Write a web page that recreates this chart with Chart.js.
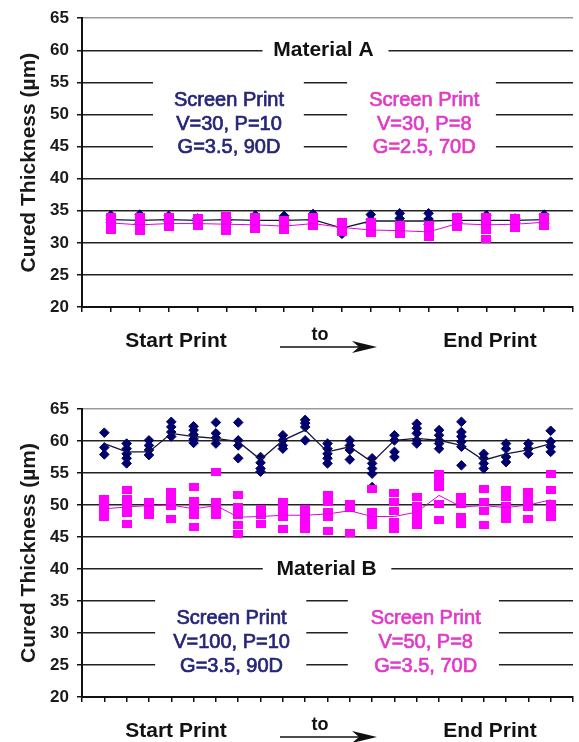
<!DOCTYPE html>
<html>
<head>
<meta charset="utf-8">
<script src="https://cdn.jsdelivr.net/npm/chart.js@4.4.0/dist/chart.umd.min.js"></script>
<style>
  html, body { margin: 0; padding: 0; background: #fff; overflow: hidden; }
  canvas { position: absolute; left: 0; }
  #chartA { top: 0; }
  #chartB { top: 380px; }
</style>
</head>
<body>
<canvas id="chartA" width="579" height="370"></canvas>
<canvas id="chartB" width="579" height="362"></canvas>
<script>
// y axis labels (same for both panels)
const yTicks = [20, 25, 30, 35, 40, 45, 50, 55, 60, 65];

// Material A - print number along the run
const posA = [1, 2, 3, 4, 5, 6, 7, 8, 9, 10, 11, 12, 13, 14, 15, 16];
// V=30, P=10 (navy diamonds), several readings per print
const navyA = [
  [34.3, 33.6, 33.2], [34.4, 33.5, 33.0], [34.2, 33.6, 33.3], [33.8, 33.4, 33.1],
  [34.0, 33.5, 33.2], [34.3, 33.5, 33.0], [34.2, 33.6, 33.1], [34.5, 33.5, 33.2],
  [32.9, 32.4, 31.4], [34.4, 33.6, 33.0], [34.6, 33.8, 33.0], [34.6, 33.7, 32.9],
  [33.9, 33.5, 33.2], [34.3, 33.5, 32.9], [33.8, 33.5, 33.2], [34.4, 33.4, 33.0]
];
const navyAMean = [33.6, 33.5, 33.6, 33.5, 33.6, 33.5, 33.5, 33.6, 32.3, 33.4, 33.4, 33.4, 33.5, 33.5, 33.5, 33.6];
// V=30, P=8 (pink squares)
const pinkA = [
  [34.0, 33.2, 32.5, 32.0], [34.0, 33.0, 32.3, 31.8], [34.0, 33.2, 32.4], [33.8, 33.2, 32.6],
  [34.2, 33.3, 32.5, 31.8], [34.0, 33.0, 32.2], [33.6, 32.8, 32.0], [34.0, 33.3, 32.6],
  [33.3, 32.5, 31.7], [33.3, 32.4, 31.6], [32.8, 32.0, 31.4], [32.8, 32.0, 31.3, 30.9],
  [34.0, 33.2, 32.5], [34.0, 33.0, 32.0, 30.6], [33.8, 33.0, 32.3], [34.0, 33.3, 32.6]
];
const pinkAMean = [33.1, 32.8, 33.0, 33.0, 32.9, 32.8, 32.6, 33.0, 32.4, 32.0, 31.9, 31.7, 33.0, 32.8, 32.9, 33.2];

// Material B
const posB = [1, 2, 3, 4, 5, 6, 7, 8, 9, 10, 11, 12, 13, 14, 15, 16, 17, 18, 19, 20, 21];
// V=100, P=10 (navy diamonds)
const navyB = [
  [61.3, 59.0, 57.9], [59.6, 58.8, 58.0, 57.3, 56.5], [60.1, 59.3, 58.6, 57.8],
  [63.0, 62.2, 61.4, 60.7], [62.3, 61.7, 61.0, 60.3, 59.7], [62.9, 61.2, 60.5, 59.6],
  [62.9, 60.1, 59.3, 57.3], [57.5, 56.6, 55.7, 55.2], [60.9, 60.1, 59.3, 58.8],
  [63.3, 62.8, 62.2, 60.1], [59.6, 58.8, 58.0, 57.3, 56.5], [60.1, 59.3, 58.6, 57.1],
  [57.3, 56.5, 55.7, 54.9, 52.8], [60.9, 60.1, 58.3, 57.5], [62.7, 62.0, 61.2, 60.1, 59.6],
  [61.7, 60.9, 60.1, 59.6, 58.8], [63.0, 61.4, 60.7, 59.9, 59.1, 56.2], [58.0, 57.3, 56.5, 55.7],
  [59.6, 58.8, 57.5, 56.7], [59.6, 58.8, 58.0], [61.6, 59.9, 59.1, 58.3]
];
const navyBMean = [59.6, 58.3, 58.3, 61.2, 60.7, 60.4, 59.9, 57.1, 60.1, 61.7, 58.3, 59.1,
  56.7, 60.1, 60.4, 60.1, 59.3, 57.0, 58.0, 58.6, 59.6];
// V=50, P=8 (pink squares)
const pinkB = [
  [51.0, 49.9, 48.9, 48.1], [52.3, 50.9, 49.9, 48.8, 47.0], [50.4, 49.4, 48.4],
  [52.0, 51.0, 49.9, 47.8], [52.8, 50.7, 49.7, 48.4, 46.5], [55.2, 50.4, 49.4, 48.4],
  [51.5, 49.7, 48.4, 46.8, 45.5], [49.4, 48.4, 47.0], [50.4, 49.4, 48.1, 46.3],
  [49.4, 48.4, 47.3, 46.3], [51.5, 50.4, 48.9, 48.1, 46.0], [50.2, 49.6, 45.6],
  [52.5, 48.9, 47.8, 46.8], [51.8, 50.4, 49.1, 47.3, 46.3], [51.3, 49.9, 48.9, 47.8, 46.8],
  [54.9, 53.8, 52.8, 50.2, 47.6], [51.3, 50.2, 48.1, 47.0], [52.5, 50.4, 49.1, 46.8],
  [52.3, 51.3, 49.9, 48.9, 47.8], [52.0, 51.0, 49.7, 47.8], [54.9, 52.3, 50.2, 49.1, 48.1]
];
const pinkBMean = [49.4, 49.7, 49.9, 50.0, 49.4, 49.9, 48.1, 48.2, 48.4, 48.4, 48.6, 49.1,
  48.2, 48.2, 48.9, 51.5, 49.7, 49.9, 49.6, 50.0, 50.8];

const FONT = '"Liberation Sans", Arial, sans-serif';
const NAVY = '#00006e';
const PINK = '#ff00ff';
const NAVY_TXT = '#262678';
const PINK_TXT = '#e23ac6';

// flat little rectangles for the pink markers
const pinkMark = document.createElement('canvas');
pinkMark.width = 10; pinkMark.height = 8;
pinkMark.getContext('2d').fillStyle = PINK;
pinkMark.getContext('2d').fillRect(0, 0, 10, 8);

function cloud(pos, vals) {
  const pts = [];
  pos.forEach((p, i) => vals[i].forEach(v => pts.push({ x: p, y: v })));
  return pts;
}
function trace(pos, vals) {
  return pos.map((p, i) => ({ x: p, y: vals[i] }));
}

// white text boxes, the text in them, and the start/end caption under the axis
const notes = {
  id: 'notes',
  beforeDatasetsDraw(chart, args, opts) {
    const { ctx, scales: { x, y } } = chart;
    ctx.save();
    ctx.fillStyle = '#fff';
    opts.boxes.forEach(b => {
      const x0 = x.getPixelForValue(b[0]), x1 = x.getPixelForValue(b[1]);
      const y0 = y.getPixelForValue(b[2]), y1 = y.getPixelForValue(b[3]);
      ctx.fillRect(x0, y1, x1 - x0, y0 - y1);
    });
    ctx.restore();
  },
  afterDatasetsDraw(chart, args, opts) {
    const { ctx, scales: { x, y } } = chart;
    ctx.save();
    ctx.textAlign = 'center';
    ctx.textBaseline = 'middle';
    opts.labels.forEach(t => {
      ctx.font = t.font;
      ctx.fillStyle = t.color;
      const px = x.getPixelForValue(t.x), py = y.getPixelForValue(t.y);
      ctx.fillText(t.text, px, py);
      if (t.stroke) {
        ctx.strokeStyle = t.color;
        ctx.lineWidth = t.stroke;
        ctx.strokeText(t.text, px, py);
      }
    });
    ctx.restore();
  },
  afterDraw(chart) {
    const { ctx, chartArea } = chart;
    const base = chartArea.bottom;
    ctx.save();
    ctx.fillStyle = '#111';
    ctx.strokeStyle = '#111';
    ctx.textAlign = 'center';
    ctx.textBaseline = 'middle';
    ctx.font = 'bold 21px ' + FONT;
    ctx.fillText('Start Print', 176, base + 34);
    ctx.fillText('End Print', 490, base + 34);
    ctx.font = 'bold 18px ' + FONT;
    ctx.fillText('to', 320, base + 28);
    const ay = base + 40;
    ctx.lineWidth = 1.5;
    ctx.beginPath(); ctx.moveTo(280, ay); ctx.lineTo(362, ay); ctx.stroke();
    ctx.beginPath();
    ctx.moveTo(377, ay); ctx.lineTo(352, ay - 6); ctx.lineTo(359, ay); ctx.lineTo(352, ay + 6);
    ctx.closePath(); ctx.fill();
    ctx.restore();
  }
};

function textBlock(cx, yTop, lines, color) {
  return lines.map((s, i) => ({
    text: s, x: cx, y: yTop - i * 3.7, color: color,
    font: '20px ' + FONT, stroke: 0.7
  }));
}

function makeChart(id, o) {
  const config = {
    type: 'scatter',
    data: {
      datasets: [
        { data: trace(o.pos, o.pinkMean), showLine: true, borderColor: '#e000e0', borderWidth: 1,
          pointRadius: 0, order: 1 },
        { data: cloud(o.pos, o.pink), pointStyle: pinkMark, pointRadius: 5, order: 2 },
        { data: trace(o.pos, o.navyMean), showLine: true, borderColor: '#15153c', borderWidth: 1.3,
          pointRadius: 0, order: 3 },
        { data: cloud(o.pos, o.navy), pointStyle: 'rectRot', pointRadius: 4.8,
          backgroundColor: NAVY, borderColor: NAVY, borderWidth: 1, order: 4 }
      ]
    },
    options: {
      responsive: false,
      animation: false,
      layout: { padding: { top: o.padTop, left: 0, right: 0, bottom: 0 } },
      plugins: {
        legend: { display: false },
        tooltip: { enabled: false },
        notes: { boxes: o.boxes, labels: o.labels }
      },
      scales: {
        x: {
          type: 'linear', min: 0, max: o.xMax,
          ticks: { stepSize: 1, display: false },
          grid: { drawOnChartArea: false, drawTicks: true, tickLength: 5, color: '#111', lineWidth: 1.5 },
          border: { display: true, color: '#111', width: 2 },
          afterFit(s) { s.height = o.axisH; }
        },
        y: {
          min: 20, max: 65,
          afterBuildTicks(s) { s.ticks = yTicks.map(v => ({ value: v })); },
          ticks: { color: '#1a1a1a', padding: 8, font: { family: FONT, size: 17, weight: 'bold' } },
          grid: {
            color: c => (c.tick && c.tick.value === 65 ? '#9a9a9a' : '#222'),
            lineWidth: 1.5, tickLength: 5, tickColor: '#111'
          },
          border: { color: '#111', width: 2 },
          title: {
            display: true, text: 'Cured Thickness (\u00b5m)', color: '#1a1a1a',
            font: { family: FONT, size: 21, weight: 'bold' }, padding: { top: 17, bottom: 0 }
          },
          afterFit(s) { s.width = 82; }
        }
      }
    },
    plugins: [notes]
  };
  return new Chart(document.getElementById(id), config);
}

makeChart('chartA', {
  pos: posA, navy: navyA, navyMean: navyAMean, pink: pinkA, pinkMean: pinkAMean,
  xMax: 17, padTop: 17, axisH: 63,
  boxes: [[6.25, 10.61, 58.5, 61.5], [2.46, 7.68, 42, 57.5], [9.18, 14.33, 42, 57.5]],
  labels: [{ text: 'Material A', x: 8.36, y: 60, color: '#111', font: 'bold 21px ' + FONT }]
    .concat(textBlock(5.09, 52.2, ['Screen Print', 'V=30, P=10', 'G=3.5, 90D'], NAVY_TXT))
    .concat(textBlock(11.85, 52.2, ['Screen Print', 'V=30, P=8', 'G=2.5, 70D'], PINK_TXT))
});

makeChart('chartB', {
  pos: posB, navy: navyB, navyMean: navyBMean, pink: pinkB, pinkMean: pinkBMean,
  xMax: 22, padTop: 29, axisH: 45,
  boxes: [[8.10, 13.86, 38.5, 41.5], [3.28, 10.05, 22, 37.5], [11.91, 18.68, 22, 37.5]],
  labels: [{ text: 'Material B', x: 10.96, y: 40, color: '#111', font: 'bold 21px ' + FONT }]
    .concat(textBlock(6.7, 32.2, ['Screen Print', 'V=100, P=10', 'G=3.5, 90D'], NAVY_TXT))
    .concat(textBlock(15.4, 32.2, ['Screen Print', 'V=50, P=8', 'G=3.5, 70D'], PINK_TXT))
});
</script>
</body>
</html>
